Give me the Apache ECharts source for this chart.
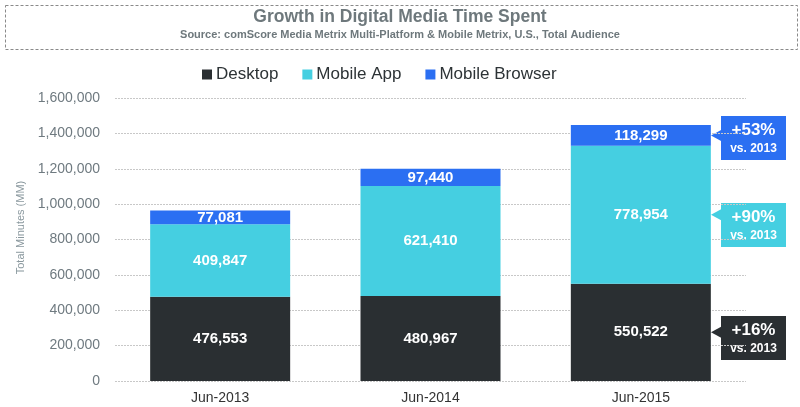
<!DOCTYPE html>
<html>
<head>
<meta charset="utf-8">
<script src="https://cdn.jsdelivr.net/npm/echarts@6/dist/echarts.min.js"></script>
<style>html,body{margin:0;padding:0;background:#fff}#c{width:800px;height:407px}</style>
</head>
<body>
<div id="c"></div>
<script>
const categories = ['Jun-2013', 'Jun-2014', 'Jun-2015'];
const desktop = [476553, 480967, 550522];
const mobileApp = [409847, 621410, 778954];
const mobileBrowser = [77081, 97440, 118299];
const seriesNames = ['Desktop', 'Mobile App', 'Mobile Browser'];
const growthLabels = ['+16%', '+90%', '+53%'];
const growthNote = 'vs. 2013';
const yTicks = [0, 200000, 400000, 600000, 800000, 1000000, 1200000, 1400000, 1600000];

const colors = ['#2a2f32', '#45cfe1', '#2b6ff2'];
const chart = echarts.init(document.getElementById('c'), null, {renderer: 'canvas'});

const fmt = v => v.toLocaleString('en-US');
const labelStyle = {show: true, position: 'inside', color: '#fff', fontWeight: 'bold', fontSize: 15, fontFamily: 'Liberation Sans, Arial', formatter: p => fmt(p.value)};

const option = {
  animation: false,
  color: colors,
  grid: {left: 115, right: 54, top: 98, bottom: 26, containLabel: false},
  legend: {
    left: 197, top: 61, itemWidth: 10, itemHeight: 10, itemGap: 24, icon: 'rect',
    textStyle: {fontSize: 17, color: '#2d3336', fontFamily: 'Liberation Sans, Arial', padding: [0, 0, 0, -1]},
    data: seriesNames
  },
  xAxis: {
    type: 'category', data: categories,
    axisLine: {show: false}, axisTick: {show: false},
    axisLabel: {fontSize: 14, color: '#333', margin: 10, fontFamily: 'Liberation Sans, Arial'}
  },
  yAxis: {
    type: 'value', min: yTicks[0], max: yTicks[yTicks.length - 1], interval: yTicks[1] - yTicks[0],
    name: 'Total Minutes (MM)', nameLocation: 'middle', nameGap: 88, nameRotate: 90,
    nameTextStyle: {fontSize: 11, color: '#8a989e', fontFamily: 'Liberation Sans, Arial', padding: [0, 0, 0, 24]},
    axisLine: {show: false}, axisTick: {show: false},
    axisLabel: {fontSize: 14, color: '#6f7a80', margin: 15, fontFamily: 'Liberation Sans, Arial', formatter: v => fmt(v)},
    splitLine: {lineStyle: {color: '#c8c8c8', type: [2, 1], width: 1}}
  },
  series: [
    {name: seriesNames[0], type: 'bar', stack: 't', data: desktop, barWidth: 140, label: labelStyle, itemStyle: {color: colors[0]}},
    {name: seriesNames[1], type: 'bar', stack: 't', data: mobileApp, barWidth: 140, label: labelStyle, itemStyle: {color: colors[1]}},
    {name: seriesNames[2], type: 'bar', stack: 't', data: mobileBrowser, barWidth: 140, label: labelStyle, itemStyle: {color: colors[2]}}
  ],
  graphic: []
};
chart.setOption(option);

const g = [];
g.push({type: 'rect', left: 3, top: 3, shape: {width: 792, height: 44}, style: {fill: 'none', stroke: '#8a8a8a', lineWidth: 1, lineDash: [3, 2]}, silent: true});
g.push({type: 'text', left: 'center', top: 8, style: {text: 'Growth in Digital Media Time Spent', fill: '#6e787c', font: 'bold 17.5px "Liberation Sans", Arial'}});
g.push({type: 'text', left: 'center', top: 29, style: {text: 'Source: comScore Media Metrix Multi-Platform & Mobile Metrix, U.S., Total Audience', fill: '#6e787c', font: 'bold 11px "Liberation Sans", Arial'}});

const last = categories.length - 1;
const segs = [desktop[last], mobileApp[last], mobileBrowser[last]];
const boxTops = [316, 203, 116];
let base = 0;
segs.forEach((v, i) => {
  const mid = base + v / 2; base += v;
  const y = chart.convertToPixel({yAxisIndex: 0}, mid);
  const bx = 721, by = boxTops[i], bw = 65, bh = 44;
  const ay = Math.min(Math.max(y, by + 10), by + bh - 8);
  g.push({type: 'rect', shape: {x: bx, y: by, width: bw, height: bh}, style: {fill: colors[i]}, silent: true});
  g.push({type: 'polygon', shape: {points: [[bx + 1, ay - 6], [bx - 10, ay], [bx + 1, ay + 6]]}, style: {fill: colors[i]}, silent: true});
  g.push({type: 'text', x: bx + bw / 2, y: by + 14, style: {text: growthLabels[i], fill: '#fff', font: 'bold 17px "Liberation Sans", Arial', align: 'center', verticalAlign: 'middle'}});
  g.push({type: 'text', x: bx + bw / 2, y: by + 33, style: {text: growthNote, fill: '#fff', font: 'bold 12px "Liberation Sans", Arial', align: 'center', verticalAlign: 'middle'}});
});
chart.setOption({graphic: g});
</script>
</body>
</html>
